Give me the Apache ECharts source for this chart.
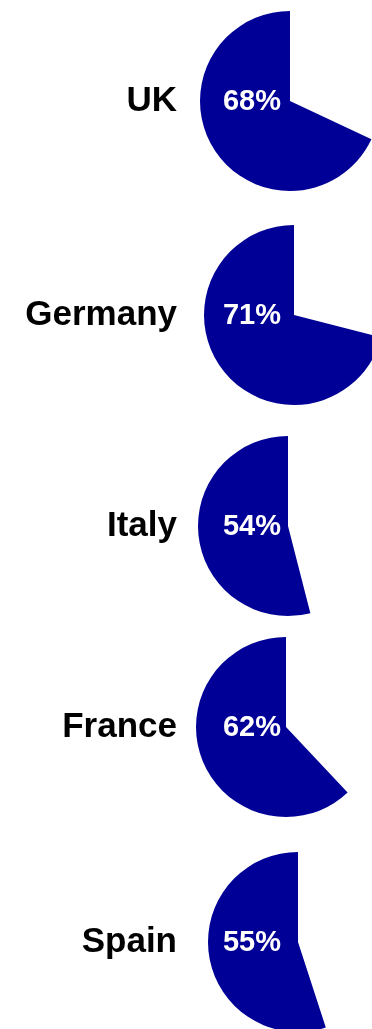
<!DOCTYPE html>
<html>
<head>
<meta charset="utf-8">
<style>
  html, body { margin: 0; padding: 0; background: #fff; }
  #chart { width: 372px; height: 1029px; }
</style>
<script src="https://cdn.jsdelivr.net/npm/echarts@6/dist/echarts.min.js"></script>
</head>
<body>
<div id="chart"></div>
<script>
  // 国家与占比
  const countries = ['UK', 'Germany', 'Italy', 'France', 'Spain']
  const shares = [68, 71, 54, 62, 55]

  // 每个饼图的圆心
  const centers = [[290, 101], [294, 315], [288, 526], [286, 727], [298, 942]]
  const radius = 90
  const pieColor = '#000096'
  const fontFamily = '"Liberation Sans", Arial, sans-serif'

  const chartInstance = echarts.init(document.getElementById('chart'))

  const titles = countries.map((name, i) => {
    return {
      text: name,
      left: 177,
      top: centers[i][1],
      padding: 0,
      textAlign: 'right',
      textVerticalAlign: 'middle',
      textStyle: {
        fontFamily: fontFamily,
        fontSize: 35,
        fontWeight: 'bold',
        color: '#000'
      }
    }
  })

  const series = countries.map((name, i) => {
    return {
      type: 'pie',
      center: centers[i],
      radius: radius,
      startAngle: 90,
      clockwise: false,
      silent: true,
      animation: false,
      labelLine: { show: false },
      labelLayout: {
        x: 252,
        y: centers[i][1] + 1,
        align: 'center',
        verticalAlign: 'middle'
      },
      data: [
        {
          value: shares[i],
          name: name,
          itemStyle: { color: pieColor },
          label: {
            show: true,
            position: 'center',
            formatter: shares[i] + '%',
            color: '#fff',
            fontFamily: fontFamily,
            fontSize: 29,
            fontWeight: 'bold'
          }
        },
        {
          value: 100 - shares[i],
          name: name + ' rest',
          itemStyle: { color: 'rgba(0,0,0,0)' },
          label: { show: false }
        }
      ]
    }
  })

  chartInstance.setOption({
    backgroundColor: '#fff',
    animation: false,
    title: titles,
    tooltip: { show: false },
    series: series
  })
</script>
</body>
</html>
